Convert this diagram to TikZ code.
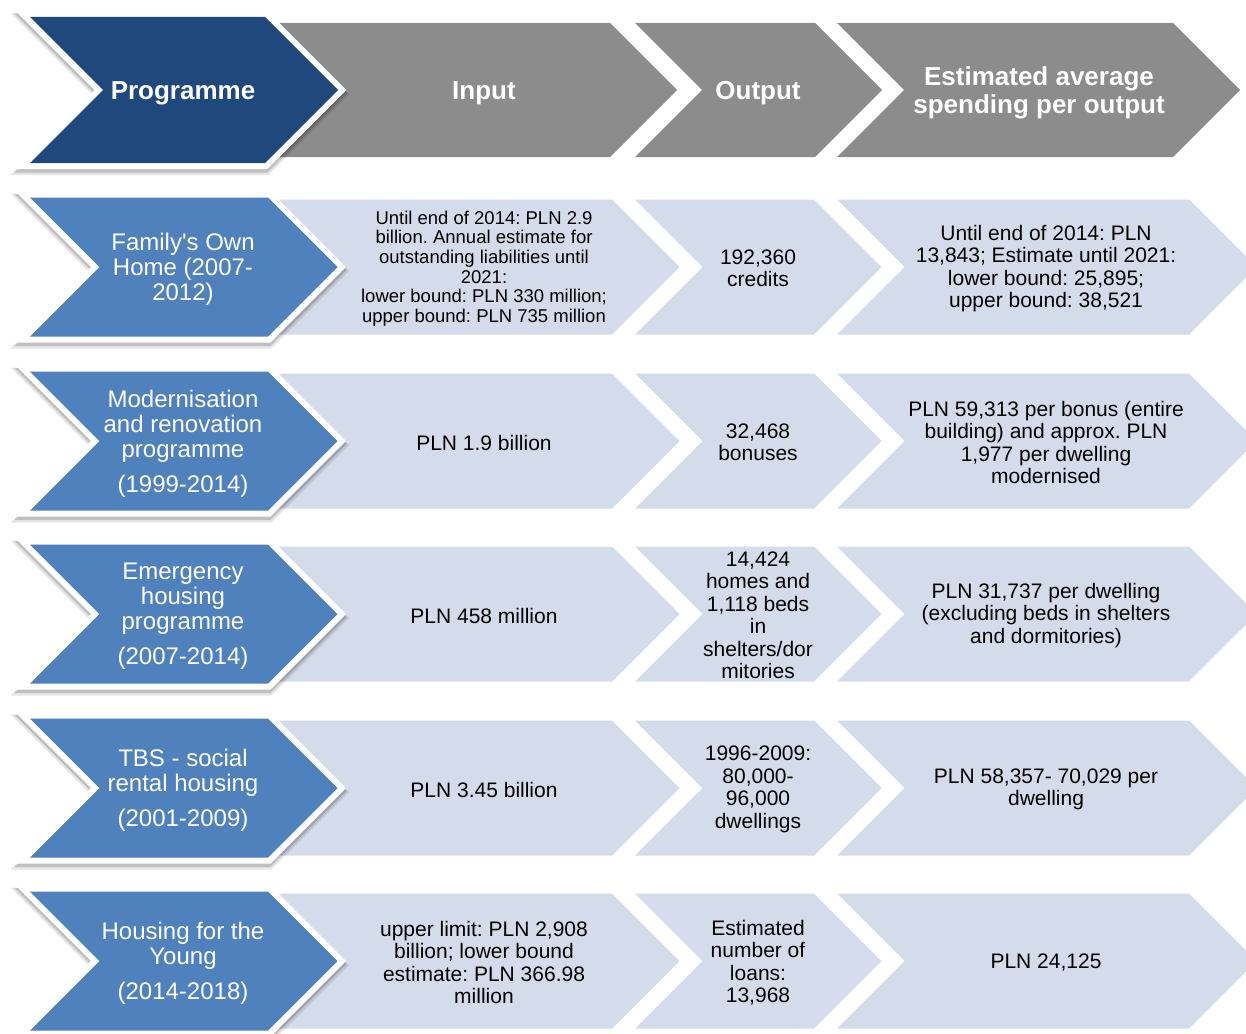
\documentclass[tikz,border=0pt]{standalone}
\usepackage{fontspec}
\setmainfont{Liberation Sans}
\usepackage{xcolor}
\usepackage{tikz}
\frenchspacing
\definecolor{progblue}{RGB}{31,73,125}
\definecolor{rowblue}{RGB}{79,129,189}
\definecolor{headgrey}{RGB}{140,140,140}
\definecolor{lightfill}{RGB}{212,219,234}
\tikzstyle{rim} = [preaction={draw=black, draw opacity=.10, line width=16pt,
	transform canvas={yshift=-4pt}},
	preaction={draw=black, draw opacity=.16, line width=13pt,
	transform canvas={yshift=-3pt}},
	preaction={draw=white, line width=12pt}]
\tikzstyle{headchev} = [rim, fill=progblue]
\tikzstyle{bluechev} = [rim, fill=rowblue]
\tikzstyle{greychev} = [fill=headgrey]
\tikzstyle{lightchev} = [fill=lightfill]
\tikzstyle{headtext} = [text=white, align=center, inner sep=0pt, yshift=-3pt,
	font=\fontsize{26}{28}\selectfont\bfseries]
\tikzstyle{progtext} = [text=white, align=center, inner sep=0pt, yshift=-2.5pt,
	font=\fontsize{24}{25}\selectfont]
\tikzstyle{celltext} = [text=black, align=center, inner sep=0pt, yshift=-1.5pt,
	font=\fontsize{21}{22.5}\selectfont]
\newcommand{\chev}[5]{\path[#1] (#2,#4-#5) -- (#3,#4-#5) -- (#3+#5,#4)
	-- (#3,#4+#5) -- (#2,#4+#5) -- (#2+#5,#4) -- cycle}

\begin{document}
\begin{tikzpicture}[x=1pt, y=-1pt]
	\useasboundingbox (0,0) rectangle (1246,1033);
	\clip (0,0) rectangle (1246,1033);
	
	\chev{greychev}{837}{1173}{90}{67};
	\chev{greychev}{635}{815}{90}{67};
	\chev{greychev}{250}{610}{90}{67};
	\chev{headchev}{30}{265}{90}{73};
	\foreach \y in {267,441,614,788,961}{
		\chev{lightchev}{837}{1189}{\y}{67.5};
		\chev{lightchev}{635}{814}{\y}{67.5};
		\chev{lightchev}{250}{612}{\y}{67.5};
		\chev{bluechev}{30}{268}{\y}{69.5};
	}
	
	\node[headtext] (prog) at (183,90) {Programme};
	\node[headtext] (input) at (484,90) {Input};
	\node[headtext] (output) at (758,90) {Output};
	\node[headtext] (spend) at (1039,90) {Estimated average\\spending per output};
	
	\node[progtext] (fam) at (183,267) {Family\textquotesingle s Own\\Home (2007-\\2012)};
	\node[celltext, font=\fontsize{18.5}{19.6}\selectfont] (famin) at (484,267)
		{Until end of 2014: PLN 2.9\\billion. Annual estimate for\\outstanding liabilities until\\2021:\\lower bound: PLN 330 million;\\upper bound: PLN 735 million};
	\node[celltext] (famout) at (758,267) {192,360\\credits};
	\node[celltext] (famspend) at (1046,267) {Until end of 2014: PLN\\13,843; Estimate until 2021:\\lower bound: 25,895;\\upper bound: 38,521};
	
	\node[progtext] (modern) at (183,441) {Modernisation\\and renovation\\programme\\[10pt](1999-2014)};
	\node[celltext] (modernin) at (484,441) {PLN 1.9 billion};
	\node[celltext] (modernout) at (758,441) {32,468\\bonuses};
	\node[celltext] (modernspend) at (1046,441) {PLN 59,313 per bonus (entire\\building) and approx. PLN\\1,977 per dwelling\\modernised};
	
	\node[progtext] (emerg) at (183,614) {Emergency\\housing\\programme\\[10pt](2007-2014)};
	\node[celltext] (emergin) at (484,614) {PLN 458 million};
	\node[celltext] (emergout) at (758,614) {14,424\\homes and\\1,118 beds\\in\\shelters/dor\\mitories};
	\node[celltext] (emergspend) at (1046,614) {PLN 31,737 per dwelling\\(excluding beds in shelters\\and dormitories)};
	
	\node[progtext] (tbs) at (183,788) {TBS - social\\rental housing\\[10pt](2001-2009)};
	\node[celltext] (tbsin) at (484,788) {PLN 3.45 billion};
	\node[celltext] (tbsout) at (758,788) {1996-2009:\\80,000-\\96,000\\dwellings};
	\node[celltext] (tbsspend) at (1046,788) {PLN 58,357- 70,029 per\\dwelling};
	
	\node[progtext] (young) at (183,961) {Housing for the\\Young\\[10pt](2014-2018)};
	\node[celltext] (youngin) at (484,961) {upper limit: PLN 2,908\\billion; lower bound\\estimate: PLN 366.98\\million};
	\node[celltext] (youngout) at (758,961) {Estimated\\number of\\loans:\\13,968};
	\node[celltext] (youngspend) at (1046,961) {PLN 24,125};
\end{tikzpicture}
\end{document}
